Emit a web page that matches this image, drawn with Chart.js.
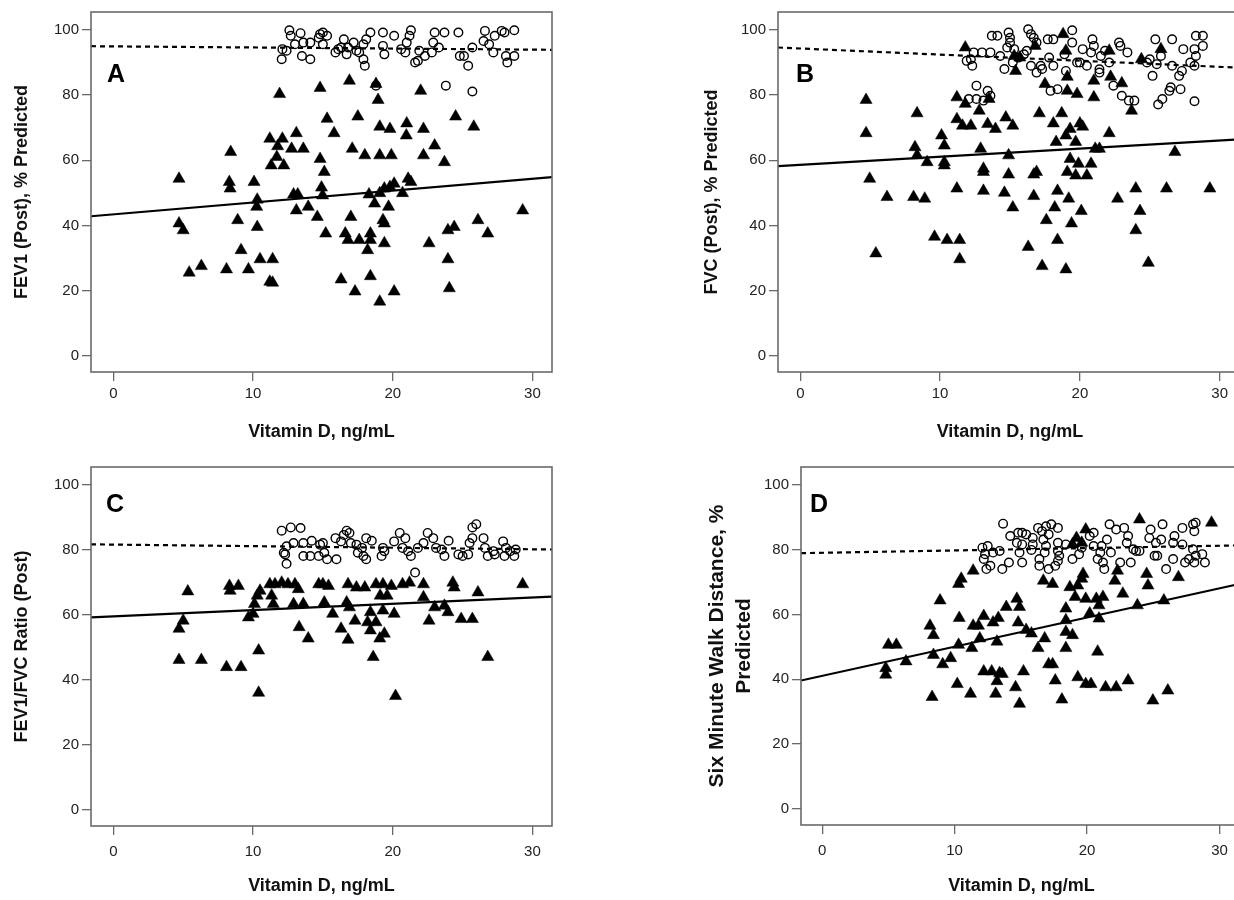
<!DOCTYPE html>
<html><head><meta charset="utf-8">
<script src="https://cdn.jsdelivr.net/npm/chart.js@4.4.1/dist/chart.umd.min.js"></script>
<style>
html,body{margin:0;padding:0;background:#fff;width:1234px;height:900px;overflow:hidden;position:relative;}
.panel{position:absolute;}
canvas{display:block;}
</style></head><body>
<div class="panel" style="left:0;top:0"><canvas id="cA" width="580" height="450"></canvas></div>
<div class="panel" style="left:690px;top:0"><canvas id="cB" width="570" height="450"></canvas></div>
<div class="panel" style="left:0;top:455px"><canvas id="cC" width="580" height="445"></canvas></div>
<div class="panel" style="left:690px;top:455px"><canvas id="cD" width="570" height="445"></canvas></div>
<script>
// ---- tick labels / axis ranges ----
const xTicks = [0, 10, 20, 30];
const yTicks = [0, 20, 40, 60, 80, 100];
const xTitle = 'Vitamin D, ng/mL';

// ---- Panel A : FEV1 (Post), % Predicted ----
const aCirc = [[12.6,99.9],[12.7,98.2],[13.4,99.0],[12.1,94.1],[12.4,93.6],[12.05,91.0],[13.0,95.6],[13.6,96.1],[14.1,96.1],[13.5,92.0],[14.1,91.0],[14.8,98.7],[15.0,99.2],[15.3,98.2],[14.7,97.6],[15.0,95.6],[15.9,93.1],[16.1,94.1],[16.5,97.1],[16.3,94.6],[16.7,92.5],[16.8,94.6],[17.2,96.1],[17.4,93.6],[17.6,93.1],[17.9,95.6],[18.1,97.1],[18.4,99.2],[17.9,91.0],[18.0,89.0],[19.3,99.2],[19.3,95.1],[19.4,92.5],[20.1,98.2],[20.6,94.1],[21.0,96.1],[21.2,98.2],[21.3,99.9],[20.9,93.1],[21.6,90.0],[21.8,90.5],[21.9,93.6],[22.3,92.0],[22.9,96.1],[23.0,99.2],[23.7,99.2],[23.3,94.6],[22.8,93.1],[24.7,99.2],[24.8,92.0],[25.1,92.0],[25.4,89.0],[25.7,94.6],[26.5,96.6],[26.6,99.7],[26.9,95.6],[27.2,93.1],[27.3,98.2],[27.8,99.7],[28.0,99.2],[28.1,92.0],[28.2,90.0],[28.7,99.9],[28.7,92.0],[23.8,82.9],[25.7,81.1],[18.8,82.9]];
const aTri = [[11.9,80.3],[14.8,82.2],[16.9,84.4],[18.8,83.4],[18.95,78.5],[22.0,81.3],[15.3,72.7],[17.5,73.4],[15.8,68.3],[19.07,70.3],[19.8,69.6],[21.0,71.3],[22.2,69.6],[20.97,67.6],[24.5,73.4],[25.8,70.3],[11.2,66.6],[12.1,66.6],[13.1,68.3],[11.76,64.3],[12.76,63.5],[13.6,63.5],[17.1,63.5],[18.0,61.5],[19.07,61.5],[19.9,61.5],[22.2,61.5],[23.0,64.5],[23.7,59.4],[8.4,62.5],[11.7,61.0],[11.3,58.4],[12.2,58.4],[14.8,60.4],[15.1,56.4],[4.7,54.3],[8.3,53.3],[8.36,51.3],[10.07,53.3],[21.1,54.3],[21.3,53.3],[12.9,49.5],[13.2,49.5],[14.9,51.6],[14.98,49.2],[18.3,49.5],[19.07,49.9],[19.4,51.3],[19.8,51.8],[20.1,52.8],[20.7,49.9],[10.3,47.9],[10.26,45.7],[13.1,44.6],[13.95,45.7],[14.6,42.6],[17.0,42.6],[19.3,41.6],[19.4,40.6],[19.7,45.7],[18.7,46.7],[4.7,40.6],[5.0,38.5],[8.9,41.6],[10.3,39.5],[15.2,37.5],[16.6,37.5],[16.8,35.5],[17.6,35.5],[18.4,37.5],[18.4,35.5],[18.2,32.4],[19.4,34.5],[22.6,34.5],[23.95,38.5],[24.4,39.5],[26.1,41.6],[26.8,37.5],[29.3,44.6],[9.14,32.4],[10.5,29.6],[11.4,29.6],[5.43,25.5],[6.3,27.5],[8.1,26.5],[9.67,26.5],[11.2,22.7],[11.4,22.4],[23.95,29.6],[16.3,23.4],[18.4,24.4],[17.3,19.7],[19.07,16.6],[20.1,19.7],[24.05,20.7]];
const aFitTri = [[-1.6,42.8],[31.4,54.8]];
const aFitCirc = [[-1.6,95.0],[31.4,93.9]];

// ---- Panel B : FVC (Post), % Predicted ----
const bCirc = [[13.7,98.2],[14.1,98.2],[14.9,99.2],[15.0,97.6],[15.0,96.1],[16.3,100.2],[16.5,98.7],[16.7,97.6],[16.9,96.1],[17.7,97.1],[18.1,97.1],[19.45,99.9],[19.45,96.1],[20.9,97.1],[21.0,95.1],[20.2,94.1],[20.8,93.1],[21.5,92.0],[21.8,93.6],[22.8,96.1],[22.9,95.1],[23.4,93.1],[25.4,97.1],[26.6,97.1],[28.3,98.2],[28.8,98.2],[28.8,95.1],[28.2,94.1],[27.4,94.1],[28.3,92.0],[27.9,90.0],[28.2,89.0],[26.6,89.0],[27.3,87.4],[27.1,85.9],[25.5,89.5],[25.8,92.0],[25.0,91.0],[24.8,90.0],[25.2,85.9],[26.5,82.4],[27.2,81.8],[26.4,81.3],[25.9,78.8],[25.6,77.1],[28.2,78.1],[23.0,79.8],[23.5,78.3],[23.9,78.3],[22.4,82.9],[22.1,90.0],[21.4,87.9],[21.4,86.9],[20.5,89.0],[19.8,90.0],[19.0,87.4],[18.9,92.5],[18.1,89.0],[17.8,91.5],[17.2,89.0],[16.9,86.9],[17.3,88.0],[16.5,89.0],[15.2,90.0],[14.6,88.0],[14.3,92.0],[13.6,93.1],[13.0,93.1],[12.4,93.1],[12.2,91.0],[12.3,89.0],[11.9,90.5],[16.2,93.6],[16.0,92.5],[17.9,81.3],[18.4,81.8],[12.6,82.9],[13.4,81.3],[13.6,79.8],[12.05,78.8],[12.6,78.8],[13.1,78.3],[14.8,94.6],[15.3,94.1],[15.6,91.5],[20.0,90.0]];
const bTri = [[11.8,94.6],[18.8,98.7],[19.0,93.6],[15.3,92.0],[15.7,91.5],[15.4,87.4],[16.8,95.1],[22.1,93.6],[24.4,91.0],[25.8,94.1],[19.1,85.6],[21.0,84.4],[22.2,85.6],[23.0,83.6],[23.7,75.2],[17.5,83.4],[19.1,81.3],[19.8,80.3],[21.0,79.3],[4.7,78.5],[8.35,74.4],[11.2,79.3],[11.8,77.3],[12.8,75.2],[13.5,78.8],[17.1,74.4],[18.7,74.4],[14.7,73.1],[11.2,72.6],[11.6,70.6],[12.2,70.6],[13.4,71.1],[13.96,69.6],[15.2,70.6],[18.1,71.3],[19.3,69.6],[20.0,71.3],[20.2,70.3],[19.0,67.6],[19.7,65.6],[22.1,68.3],[18.3,65.6],[4.7,68.3],[10.1,67.6],[10.3,64.5],[8.2,64.0],[8.35,61.5],[12.9,63.5],[9.07,59.4],[10.3,59.4],[10.3,58.4],[14.9,61.5],[21.1,63.5],[21.4,63.5],[26.8,62.5],[4.96,54.3],[13.1,57.4],[13.1,56.4],[14.9,55.6],[16.7,55.6],[16.9,56.4],[19.3,60.4],[19.9,58.9],[20.8,58.9],[19.1,56.4],[19.7,55.3],[20.5,55.3],[11.2,51.3],[13.1,50.6],[14.6,50.0],[16.7,49.0],[18.4,50.6],[24.0,51.3],[26.2,51.3],[29.3,51.3],[6.2,48.7],[8.1,48.7],[8.9,48.2],[19.2,48.2],[22.7,48.2],[15.2,45.5],[18.2,45.5],[20.1,44.4],[24.3,44.4],[17.6,41.6],[19.4,40.6],[9.6,36.5],[10.5,35.5],[11.4,35.5],[24.0,38.5],[18.4,35.5],[16.3,33.4],[5.4,31.4],[11.4,29.6],[17.3,27.5],[19.0,26.5],[24.9,28.5]];
const bFitTri = [[-1.6,58.2],[31.4,66.4]];
const bFitCirc = [[-1.6,94.6],[31.4,88.4]];

// ---- Panel C : FEV1/FVC Ratio (Post) ----
const cCirc = [[12.05,85.9],[12.7,86.9],[13.4,86.7],[12.4,81.1],[12.9,82.1],[13.6,82.1],[14.2,82.8],[12.3,78.6],[12.2,79.1],[12.4,75.7],[13.6,78.1],[14.1,78.1],[14.7,78.1],[14.8,81.6],[15.0,82.1],[15.1,79.1],[15.3,77.1],[15.97,77.1],[15.9,83.6],[16.5,84.6],[16.7,85.9],[16.9,85.2],[16.3,82.6],[17.0,82.1],[17.4,81.6],[17.8,80.6],[17.5,79.1],[17.9,78.1],[18.1,77.1],[18.1,83.6],[18.5,82.8],[19.3,80.6],[19.4,79.6],[19.2,78.1],[20.1,82.6],[20.5,85.2],[20.9,83.6],[20.7,80.6],[21.1,79.6],[21.3,78.1],[21.8,80.6],[22.2,82.1],[22.5,85.2],[22.9,83.6],[23.1,80.6],[23.5,80.1],[23.7,78.1],[24.0,82.8],[21.6,73.0],[24.7,78.6],[25.0,78.1],[25.4,78.6],[25.5,82.1],[25.7,83.6],[25.7,86.9],[25.98,87.9],[26.5,83.6],[26.6,80.6],[26.8,78.1],[27.2,79.6],[27.9,82.6],[28.1,80.6],[28.0,78.1],[28.4,79.6],[28.7,78.1],[28.8,80.1],[27.3,78.6]];
const cTri = [[5.33,67.2],[8.31,68.9],[8.95,68.9],[8.36,67.4],[10.5,67.4],[10.3,65.9],[10.1,63.3],[10.0,60.3],[9.67,59.2],[11.2,69.4],[11.57,69.4],[12.05,69.9],[12.5,69.4],[13.0,69.4],[13.24,67.9],[11.33,65.9],[11.45,63.3],[12.9,63.3],[13.6,63.3],[14.7,69.4],[15.0,69.4],[15.4,68.9],[15.1,63.8],[16.8,69.4],[17.4,68.4],[18.0,68.4],[18.8,69.4],[19.3,69.4],[19.9,68.9],[19.1,65.9],[19.6,65.9],[20.7,69.4],[21.2,69.9],[22.2,69.4],[24.3,69.9],[24.4,68.4],[26.1,66.9],[29.3,69.4],[22.2,65.4],[16.7,63.8],[16.9,62.3],[15.7,60.3],[17.3,58.2],[18.4,60.8],[19.3,61.3],[20.1,60.3],[18.8,57.7],[18.2,57.7],[23.0,62.3],[23.7,62.8],[23.95,60.8],[22.6,58.2],[24.9,58.7],[25.7,58.7],[5.0,58.2],[4.7,55.7],[13.3,56.2],[13.95,52.7],[16.3,55.7],[16.8,52.3],[18.4,55.2],[19.07,52.7],[19.4,54.2],[10.4,49.0],[18.6,47.0],[26.8,47.0],[4.7,46.1],[6.3,46.1],[8.1,43.9],[9.14,43.9],[10.4,36.0],[20.2,35.0]];
const cFitTri = [[-1.6,59.2],[31.4,65.6]];
const cFitCirc = [[-1.6,81.7],[31.4,80.1]];

// ---- Panel D : Six Minute Walk Distance, % Predicted ----
const dCirc = [[13.66,88.0],[14.2,84.2],[14.8,85.2],[15.1,85.2],[15.4,84.7],[15.9,83.6],[16.3,86.7],[16.6,85.7],[16.9,87.2],[17.3,87.8],[17.8,86.7],[17.1,84.7],[16.7,83.1],[14.7,82.1],[15.1,81.6],[15.9,81.6],[15.8,79.9],[16.9,81.1],[17.8,82.1],[18.4,81.6],[17.8,79.6],[16.8,79.1],[16.4,77.1],[14.9,79.1],[15.1,76.0],[14.1,76.0],[13.6,74.0],[12.7,75.0],[12.4,74.0],[12.2,77.1],[12.1,80.6],[12.5,81.1],[12.9,79.1],[13.4,79.6],[12.3,78.6],[16.4,75.0],[17.1,74.0],[17.6,75.0],[17.8,76.5],[17.9,78.1],[18.9,77.1],[19.4,78.6],[19.6,80.6],[19.2,82.1],[20.5,85.2],[21.1,81.1],[21.0,79.1],[20.8,77.1],[21.2,76.0],[21.3,74.0],[21.8,79.1],[22.5,76.0],[23.3,76.0],[23.7,79.6],[23.96,79.6],[23.5,80.1],[23.0,82.1],[23.1,84.2],[22.8,86.7],[22.2,86.2],[21.7,87.8],[21.5,83.1],[24.8,86.2],[24.7,83.6],[25.2,82.1],[25.6,83.1],[25.7,87.8],[26.6,84.2],[26.5,82.1],[27.2,86.7],[27.2,81.6],[28.0,87.8],[28.2,88.3],[28.1,85.7],[28.0,80.1],[28.2,78.1],[28.7,78.6],[28.9,76.0],[28.1,76.0],[27.7,77.1],[27.4,76.0],[26.5,77.1],[25.1,78.1],[25.3,78.1],[25.97,74.0],[20.5,81.1],[20.2,84.2]];
const dTri = [[23.96,89.3],[29.4,88.3],[19.9,86.2],[19.2,83.6],[19.6,82.1],[18.9,81.6],[11.4,73.5],[10.5,71.0],[10.3,69.4],[8.9,64.3],[16.7,70.4],[17.4,69.4],[19.7,72.5],[19.6,71.0],[18.7,68.4],[19.3,68.9],[22.3,73.5],[24.5,72.5],[24.6,68.9],[26.9,71.5],[22.1,70.4],[22.7,66.4],[19.1,65.4],[19.9,64.8],[20.7,64.8],[21.2,65.4],[14.7,64.8],[14.9,62.3],[13.9,62.3],[20.9,62.8],[23.8,62.8],[25.8,64.3],[18.4,61.8],[20.2,60.3],[20.9,58.7],[10.35,58.9],[12.2,59.5],[13.3,58.9],[8.14,56.5],[8.4,53.6],[11.4,56.5],[11.8,56.5],[12.9,57.5],[14.8,57.5],[15.4,55.2],[15.8,54.1],[18.4,58.2],[18.4,54.6],[18.9,53.6],[16.8,52.6],[16.3,49.6],[18.4,49.6],[20.8,48.5],[5.0,50.6],[5.6,50.6],[4.8,43.4],[4.8,41.4],[6.33,45.5],[8.4,47.5],[9.1,44.6],[9.7,46.5],[10.3,50.6],[11.3,49.6],[11.9,52.6],[13.2,51.6],[17.1,44.6],[17.4,44.6],[12.2,42.4],[12.8,42.4],[13.4,41.9],[13.2,39.4],[13.6,41.6],[15.2,42.4],[10.2,38.5],[11.2,35.5],[8.3,34.5],[13.1,35.5],[14.6,37.5],[14.9,32.4],[17.6,39.6],[18.1,33.7],[19.3,40.6],[19.9,38.5],[20.3,38.5],[21.4,37.5],[22.2,37.5],[23.1,39.6],[24.97,33.4],[26.1,36.5]];
const dFitTri = [[-1.6,39.6],[31.4,69.3]];
const dFitCirc = [[-1.6,78.9],[31.4,81.3]];

// ---------------------------------------------------------------
const FONT = "'Liberation Sans', Arial, Helvetica, sans-serif";
const AXIS_COLOR = '#6a6a6a';

const boxPlugin = {
  id: 'panelBox',
  afterDraw(chart, args, opts) {
    const {ctx, chartArea: a} = chart;
    ctx.save();
    ctx.strokeStyle = AXIS_COLOR;
    ctx.lineWidth = 1.6;
    ctx.strokeRect(a.left, a.top, a.right - a.left, a.bottom - a.top);
    ctx.fillStyle = '#000';
    ctx.font = 'bold 25px ' + FONT;
    ctx.textAlign = 'center';
    ctx.textBaseline = 'middle';
    ctx.fillText(opts.letter, a.left + opts.dx, a.top + opts.dy);
    ctx.restore();
  }
};

const toPts = arr => arr.map(p => ({x: p[0], y: p[1]}));

function makePanel(id, c) {
  new Chart(document.getElementById(id), {
    type: 'scatter',
    data: {datasets: [
      {data: toPts(c.fitTri), showLine: true, borderColor: '#000', borderWidth: 2.2, pointRadius: 0, pointHoverRadius: 0},
      {data: toPts(c.fitCirc), showLine: true, borderColor: '#000', borderWidth: 2.2, borderDash: [5, 4], pointRadius: 0, pointHoverRadius: 0},
      {data: toPts(c.tri), pointStyle: 'triangle', pointRadius: 7, pointHoverRadius: 7, backgroundColor: '#000', borderColor: '#000', borderWidth: 0.5},
      {data: toPts(c.circ), pointStyle: 'circle', pointRadius: 4.3, pointHoverRadius: 4.3, backgroundColor: 'rgba(0,0,0,0)', borderColor: '#000', borderWidth: 1.4}
    ]},
    options: {
      responsive: false, animation: false, devicePixelRatio: 1,
      events: [],
      layout: {padding: {left: 0, top: c.padTop, right: c.padRight, bottom: 0}},
      plugins: {legend: {display: false}, tooltip: {enabled: false},
        panelBox: {letter: c.letter, dx: c.ldx, dy: c.ldy}},
      scales: {
        x: {
          type: 'linear', min: -1.6, max: c.xMax || 31.4,
          afterBuildTicks(s) { s.ticks = xTicks.map(v => ({value: v})); },
          afterFit(s) { s.height = c.xH; },
          grid: {drawOnChartArea: false, drawTicks: true, tickLength: 9, color: AXIS_COLOR, lineWidth: 1.3},
          border: {display: false},
          ticks: {font: {family: FONT, size: 15}, color: '#222', padding: c.xTickPad, maxRotation: 0, autoSkip: false},
          title: {display: true, text: xTitle, color: '#111',
                  font: {family: FONT, size: 18, weight: 'bold'}, padding: {top: 0, bottom: c.xTitlePad}}
        },
        y: {
          type: 'linear', min: -5, max: 105.5,
          afterBuildTicks(s) { s.ticks = yTicks.map(v => ({value: v})); },
          afterFit(s) { s.width = c.yW; },
          grid: {drawOnChartArea: false, drawTicks: true, tickLength: 9, color: AXIS_COLOR, lineWidth: 1.3},
          border: {display: false},
          ticks: {font: {family: FONT, size: 15}, color: '#222', padding: 3, autoSkip: false},
          title: {display: true, text: c.yTitle, color: '#111',
                  font: {family: FONT, size: c.ySize || 18, weight: 'bold', lineHeight: c.yLH || 1.2},
                  padding: {top: c.yTitlePad, bottom: 0}}
        }
      }
    },
    plugins: [boxPlugin]
  });
}

makePanel('cA', {tri: aTri, circ: aCirc, fitTri: aFitTri, fitCirc: aFitCirc,
  yTitle: 'FEV1 (Post), % Predicted', letter: 'A', ldx: 25, ldy: 63,
  padTop: 11, padRight: 28, yW: 91, xH: 78, xTickPad: 4, xTitlePad: 7, yTitlePad: 11});
makePanel('cB', {tri: bTri, circ: bCirc, fitTri: bFitTri, fitCirc: bFitCirc,
  yTitle: 'FVC (Post), % Predicted', letter: 'B', ldx: 27, ldy: 63, xMax: 31.6,
  padTop: 11, padRight: 18, yW: 88, xH: 78, xTickPad: 4, xTitlePad: 7, yTitlePad: 11});
makePanel('cC', {tri: cTri, circ: cCirc, fitTri: cFitTri, fitCirc: cFitCirc,
  yTitle: 'FEV1/FVC Ratio (Post)', letter: 'C', ldx: 24, ldy: 38,
  padTop: 11, padRight: 28, yW: 91, xH: 74, xTickPad: 8, xTitlePad: 3, yTitlePad: 11});
makePanel('cD', {tri: dTri, circ: dCirc, fitTri: dFitTri, fitCirc: dFitCirc,
  yTitle: ['Six Minute Walk Distance, %', 'Predicted'], ySize: 21, yLH: 1.29, letter: 'D', ldx: 18, ldy: 38, xMax: 31.7,
  padTop: 10, padRight: 18, yW: 111, xH: 75, xTickPad: 8, xTitlePad: 3, yTitlePad: 14});
</script>
</body></html>
